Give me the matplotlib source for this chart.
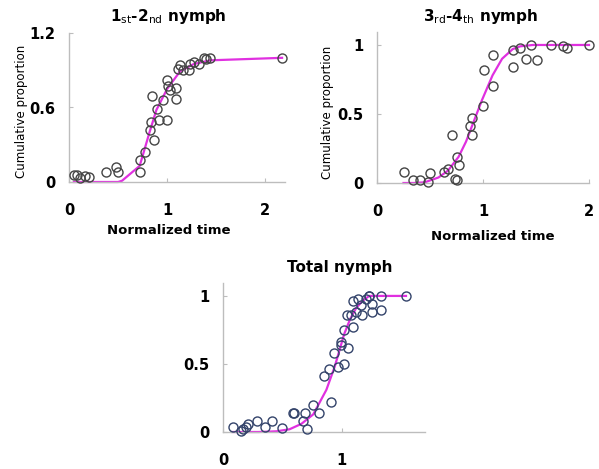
import matplotlib
matplotlib.use("Agg")
import matplotlib.pyplot as plt

# ---------------- data ----------------
p1_x = [0.05, 0.08, 0.11, 0.16, 0.20, 0.38, 0.48, 0.50, 0.72, 0.72, 0.77, 0.82, 0.84, 0.87,
        0.85, 0.90, 0.92, 0.96, 1.00, 1.00, 1.01, 1.03, 1.09, 1.09, 1.11, 1.13, 1.16, 1.22,
        1.23, 1.27, 1.32, 1.37, 1.40, 1.44, 2.17]
p1_y = [0.06, 0.06, 0.03, 0.05, 0.04, 0.08, 0.12, 0.08, 0.08, 0.18, 0.24, 0.42, 0.48, 0.34,
        0.69, 0.59, 0.50, 0.66, 0.50, 0.82, 0.77, 0.74, 0.76, 0.67, 0.91, 0.94, 0.90, 0.90,
        0.95, 0.97, 0.95, 1.00, 0.99, 1.00, 1.00]
p1_fit_x = [0.05, 0.50, 0.54, 0.72, 0.82, 0.89, 1.00, 1.13, 1.27, 1.44, 2.17]
p1_fit_y = [0.00, 0.00, 0.01, 0.13, 0.40, 0.58, 0.75, 0.89, 0.95, 0.98, 1.00]

p2_x = [0.25, 0.34, 0.41, 0.48, 0.50, 0.63, 0.67, 0.71, 0.74, 0.75, 0.75, 0.77, 0.88, 0.90,
        0.90, 1.00, 1.01, 1.09, 1.09, 1.28, 1.28, 1.35, 1.41, 1.45, 1.51, 1.64, 1.75, 1.79, 2.00]
p2_y = [0.08, 0.02, 0.02, 0.01, 0.07, 0.08, 0.10, 0.35, 0.03, 0.02, 0.19, 0.13, 0.41, 0.47,
        0.35, 0.56, 0.82, 0.70, 0.93, 0.84, 0.96, 0.98, 0.90, 1.00, 0.89, 1.00, 0.99, 0.98, 1.00]
p2_fit_x = [0.25, 0.35, 0.45, 0.58, 0.67, 0.77, 0.84, 0.90, 0.99, 1.09, 1.18, 1.28, 1.35, 1.47, 2.00]
p2_fit_y = [0.00, 0.00, 0.005, 0.04, 0.09, 0.19, 0.30, 0.42, 0.60, 0.78, 0.90, 0.97, 0.99, 1.00, 1.00]

p3_x = [0.08, 0.15, 0.17, 0.19, 0.21, 0.29, 0.35, 0.41, 0.50, 0.59, 0.60, 0.69, 0.67, 0.71,
        0.76, 0.81, 0.85, 0.89, 0.91, 0.93, 0.97, 0.99, 0.99, 1.02, 1.02, 1.04, 1.05, 1.08,
        1.09, 1.09, 1.12, 1.14, 1.16, 1.17, 1.20, 1.23, 1.25, 1.25, 1.23, 1.33, 1.33, 1.54]
p3_y = [0.04, 0.01, 0.02, 0.04, 0.06, 0.08, 0.04, 0.08, 0.03, 0.14, 0.14, 0.14, 0.08, 0.02,
        0.20, 0.14, 0.41, 0.46, 0.22, 0.58, 0.48, 0.66, 0.64, 0.50, 0.75, 0.86, 0.62, 0.86,
        0.77, 0.96, 0.88, 0.98, 0.93, 0.86, 0.98, 1.00, 0.88, 0.94, 1.00, 0.90, 1.00, 1.00]
p3_fit_x = [0.08, 0.30, 0.45, 0.56, 0.66, 0.76, 0.87, 0.94, 1.02, 1.07, 1.12, 1.17, 1.23, 1.54]
p3_fit_y = [0.00, 0.00, 0.005, 0.02, 0.06, 0.13, 0.31, 0.48, 0.72, 0.83, 0.91, 0.96, 1.00, 1.00]

titles = [r"1$_{\mathsf{st}}$-2$_{\mathsf{nd}}$ nymph",
          r"3$_{\mathsf{rd}}$-4$_{\mathsf{th}}$ nymph",
          "Total nymph"]
ylabel = "Cumulative proportion"
xlabel = "Normalized time"

# ---------------- figure ----------------
W, H = 599, 469
fig = plt.figure(figsize=(W / 100, H / 100), dpi=100)
plt.rcParams['font.family'] = ['DejaVu Sans']


def px_axes(left, right, bottom, top):
    return fig.add_axes([left / W, 1 - bottom / H, (right - left) / W, (bottom - top) / H])


magenta = '#e030e0'
spine_col = '#bdbdbd'


def style(ax, xlim, ylim, xticks, yticks, yticklabels):
    ax.set_xlim(*xlim)
    ax.set_ylim(*ylim)
    for s in ['top', 'right']:
        ax.spines[s].set_visible(False)
    for s in ['left', 'bottom']:
        ax.spines[s].set_color(spine_col)
        ax.spines[s].set_linewidth(1.0)
    ax.set_xticks(xticks)
    ax.set_xticklabels([str(t) for t in xticks], fontweight='bold', fontsize=10.5)
    ax.set_yticks(yticks)
    ax.set_yticklabels(yticklabels, fontweight='bold', fontsize=10.5)
    ax.tick_params(axis='x', direction='in', length=3, color=spine_col, pad=15)
    ax.tick_params(axis='y', direction='in', length=3, color=spine_col, pad=10)
    ax.patch.set_alpha(0)


ax1 = px_axes(69, 285, 182, 33)
ax1.plot(p1_fit_x, p1_fit_y, color=magenta, lw=1.6, clip_on=False, zorder=2)
ax1.plot(p1_x, p1_y, 'o', mfc='none', mec='#444444', ms=6.5, mew=1.0, clip_on=False, zorder=3)
style(ax1, (0, 2.2), (0, 1.2), [0, 1, 2], [0, 0.6, 1.2], ['0', '0.6', '1.2'])

ax2 = px_axes(377, 589, 183, 32)
ax2.plot(p2_fit_x, p2_fit_y, color=magenta, lw=1.6, clip_on=False, zorder=2)
ax2.plot(p2_x, p2_y, 'o', mfc='none', mec='#444444', ms=6.5, mew=1.0, clip_on=False, zorder=3)
style(ax2, (0, 2.0), (0, 1.094), [0, 1, 2], [0, 0.5, 1], ['0', '0.5', '1'])

ax3 = px_axes(223, 425, 432, 283)
ax3.plot(p3_fit_x, p3_fit_y, color=magenta, lw=1.6, clip_on=False, zorder=2)
ax3.plot(p3_x, p3_y, 'o', mfc='none', mec='#33436a', ms=6.5, mew=1.0, clip_on=False, zorder=3)
style(ax3, (0, 1.70), (0, 1.095), [0, 1], [0, 0.5, 1], ['0', '0.5', '1'])

# titles
fig.text(168 / W, 1 - 17 / H, titles[0], ha='center', va='center', fontsize=11, fontweight='bold')
fig.text(481 / W, 1 - 17 / H, titles[1], ha='center', va='center', fontsize=11, fontweight='bold')
fig.text(340 / W, 1 - 267 / H, titles[2], ha='center', va='center', fontsize=11, fontweight='bold')

# axis labels
fig.text(169 / W, 1 - 230 / H, xlabel, ha='center', va='center', fontsize=9.5, fontweight='bold')
fig.text(493 / W, 1 - 237 / H, xlabel, ha='center', va='center', fontsize=9.5, fontweight='bold')
fig.text(22 / W, 1 - 111 / H, ylabel, ha='center', va='center', rotation=90, fontsize=8.5)
fig.text(328 / W, 1 - 112 / H, ylabel, ha='center', va='center', rotation=90, fontsize=8.5)

fig.savefig('out.png', dpi=100)
